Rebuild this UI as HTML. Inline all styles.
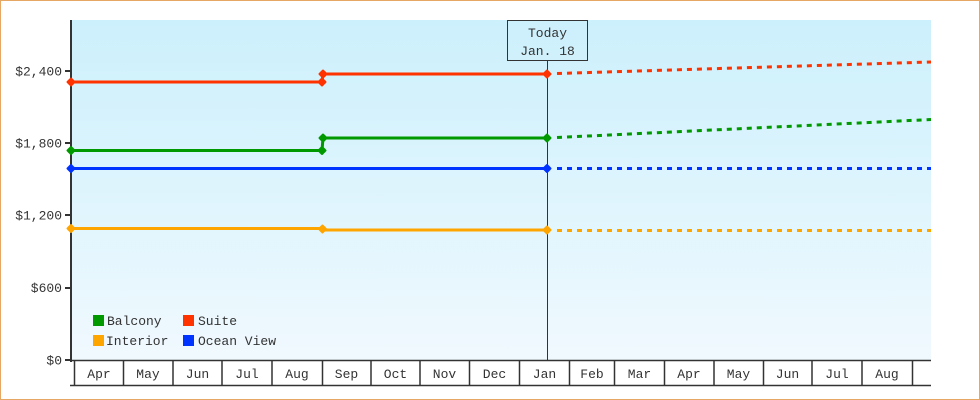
<!DOCTYPE html>
<html><head><meta charset="utf-8"><style>
html,body{margin:0;padding:0;background:#fff}
svg{display:block}
text{font-family:"Liberation Mono","DejaVu Sans Mono",monospace;font-size:13px;fill:#333}
</style></head><body>
<svg width="980" height="400" viewBox="0 0 980 400" xmlns="http://www.w3.org/2000/svg">
<defs>
<linearGradient id="bg" x1="0" y1="0" x2="0" y2="1">
<stop offset="0" stop-color="#ccf0fc"/>
<stop offset="1" stop-color="#f0f9fe"/>
</linearGradient>
<clipPath id="pc"><rect x="60" y="10" width="871" height="360"/></clipPath>
</defs>
<rect x="0.5" y="0.5" width="979" height="399" fill="#fff" stroke="#e6a764" stroke-width="1"/>
<rect x="72" y="20" width="859" height="340" fill="url(#bg)"/>

<!-- today line and box -->
<line x1="547.5" y1="60" x2="547.5" y2="361" stroke="#333" stroke-width="1"/>
<rect x="507.5" y="20.5" width="80" height="40" fill="none" stroke="#333" stroke-width="1"/>
<text x="547.5" y="37" text-anchor="middle">Today</text>
<text x="547.5" y="55" text-anchor="middle">Jan. 18</text>

<!-- y axis -->
<rect x="70" y="20" width="2" height="342" fill="#333"/>
<g fill="#333">
<rect x="65" y="70" width="5" height="2"/>
<rect x="65" y="142" width="5" height="2"/>
<rect x="65" y="214" width="5" height="2"/>
<rect x="65" y="287" width="5" height="2"/>
<rect x="65" y="359" width="5" height="2"/>
</g>
<g text-anchor="end">
<text x="62" y="75.5">$2,400</text>
<text x="62" y="147.5">$1,800</text>
<text x="62" y="219.5">$1,200</text>
<text x="62" y="292">$600</text>
<text x="62" y="364.5">$0</text>
</g>

<!-- x axis boxes -->
<line x1="70" y1="360.5" x2="931" y2="360.5" stroke="#333" stroke-width="1.5"/>
<line x1="70" y1="385.5" x2="931" y2="385.5" stroke="#333" stroke-width="1.5"/>
<g stroke="#333" stroke-width="1.5">
<line x1="74.5" y1="360" x2="74.5" y2="385"/>
<line x1="123.5" y1="360" x2="123.5" y2="385"/>
<line x1="173" y1="360" x2="173" y2="385"/>
<line x1="222" y1="360" x2="222" y2="385"/>
<line x1="272" y1="360" x2="272" y2="385"/>
<line x1="322.5" y1="360" x2="322.5" y2="385"/>
<line x1="371" y1="360" x2="371" y2="385"/>
<line x1="420" y1="360" x2="420" y2="385"/>
<line x1="469.5" y1="360" x2="469.5" y2="385"/>
<line x1="519.5" y1="360" x2="519.5" y2="385"/>
<line x1="569.5" y1="360" x2="569.5" y2="385"/>
<line x1="614.5" y1="360" x2="614.5" y2="385"/>
<line x1="664.5" y1="360" x2="664.5" y2="385"/>
<line x1="714" y1="360" x2="714" y2="385"/>
<line x1="763.5" y1="360" x2="763.5" y2="385"/>
<line x1="812" y1="360" x2="812" y2="385"/>
<line x1="862" y1="360" x2="862" y2="385"/>
<line x1="912.5" y1="360" x2="912.5" y2="385"/>
</g>
<g text-anchor="middle">
<text x="99" y="378">Apr</text>
<text x="148" y="378">May</text>
<text x="197.5" y="378">Jun</text>
<text x="247" y="378">Jul</text>
<text x="297" y="378">Aug</text>
<text x="346.5" y="378">Sep</text>
<text x="395.5" y="378">Oct</text>
<text x="444.5" y="378">Nov</text>
<text x="494.5" y="378">Dec</text>
<text x="544.5" y="378">Jan</text>
<text x="592" y="378">Feb</text>
<text x="639.5" y="378">Mar</text>
<text x="689" y="378">Apr</text>
<text x="738.5" y="378">May</text>
<text x="787.5" y="378">Jun</text>
<text x="837" y="378">Jul</text>
<text x="887" y="378">Aug</text>
</g>

<!-- series: solid -->
<g fill="none" stroke-width="3">
<polyline points="71,82 322,82 323,74 547,74" stroke="#ff3300"/>
<polyline points="71,150.5 322,150.5 323,138 547,138" stroke="#009900"/>
<polyline points="71,168.5 547,168.5" stroke="#0033ff"/>
<polyline points="71,228.5 322,228.5 323,230 547,230" stroke="#ffa500"/>
</g>
<!-- dashed forecasts -->
<g fill="none" stroke-width="3" stroke-dasharray="5,5" clip-path="url(#pc)">
<line x1="557" y1="73.5" x2="931" y2="62" stroke="#ff3300"/>
<line x1="557" y1="137.5" x2="931" y2="119.5" stroke="#009900"/>
<line x1="557" y1="168.5" x2="931" y2="168.5" stroke="#0033ff"/>
<line x1="557" y1="230.5" x2="931" y2="230.5" stroke="#ffa500"/>
</g>

<!-- markers -->
<g stroke-width="2" stroke-linejoin="round">
<g fill="#ff3300" stroke="#ff3300">
<path d="M71,78.5 L74.5,82 L71,85.5 L67.5,82Z"/>
<path d="M322,78.5 L325.5,82 L322,85.5 L318.5,82Z"/>
<path d="M323,70.5 L326.5,74 L323,77.5 L319.5,74Z"/>
<path d="M547,70.5 L550.5,74 L547,77.5 L543.5,74Z"/>
</g>
<g fill="#009900" stroke="#009900">
<path d="M71,147 L74.5,150.5 L71,154 L67.5,150.5Z"/>
<path d="M322,147 L325.5,150.5 L322,154 L318.5,150.5Z"/>
<path d="M323,134.5 L326.5,138 L323,141.5 L319.5,138Z"/>
<path d="M547,134.5 L550.5,138 L547,141.5 L543.5,138Z"/>
</g>
<g fill="#0033ff" stroke="#0033ff">
<path d="M71,165 L74.5,168.5 L71,172 L67.5,168.5Z"/>
<path d="M547,165 L550.5,168.5 L547,172 L543.5,168.5Z"/>
</g>
<g fill="#ffa500" stroke="#ffa500">
<path d="M71,225 L74.5,228.5 L71,232 L67.5,228.5Z"/>
<path d="M322.5,225.5 L326,229 L322.5,232.5 L319,229Z"/>
<path d="M547,226.5 L550.5,230 L547,233.5 L543.5,230Z"/>
</g>
</g>

<!-- legend -->
<rect x="93" y="315" width="11" height="11" fill="#009900"/>
<text x="107" y="325">Balcony</text>
<rect x="183" y="315" width="11" height="11" fill="#ff3300"/>
<text x="198" y="325">Suite</text>
<rect x="93" y="335" width="11" height="11" fill="#ffa500"/>
<text x="106" y="345">Interior</text>
<rect x="183" y="335" width="11" height="11" fill="#0033ff"/>
<text x="198" y="345">Ocean View</text>
</svg>
</body></html>
